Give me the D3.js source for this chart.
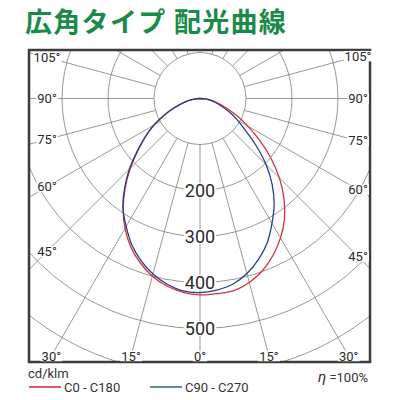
<!DOCTYPE html>
<html>
<head>
<meta charset="utf-8">
<script src="https://cdn.jsdelivr.net/npm/d3@7"></script>
<style>
  body { margin: 0; background: #fff; }
  text { font-family: Roboto, "Noto Sans", sans-serif; }
</style>
</head>
<body>
<div id="chart"></div>
<script>
// angles from nadir (deg), intensity in cd/klm
const angles = [0, 5, 10, 15, 20, 25, 30, 35, 40, 45, 50, 55, 60, 65, 70, 75, 80, 85, 90];
const c0   = [427, 426, 424, 414, 398, 376, 350, 320, 284, 244, 201, 158, 120, 88, 62, 41, 27, 13, 0];
const c180 = [427, 423, 414, 400, 380, 356, 326, 291, 253, 214, 176, 144, 115, 87, 62, 40, 26, 13, 0];
const c90  = [422, 418, 410, 394, 372, 346, 313, 281, 244, 203, 159, 120, 94, 72, 51, 36, 24, 12, 0];
const c270 = [422, 420, 410, 395, 375, 351, 321, 292, 255, 217, 178, 146, 116, 85, 60, 39, 26, 13, 0];

const rings = [100, 200, 300, 400, 500, 600, 700];
const ringLabels = [200, 300, 400, 500];
const sideLabels = [45, 60, 75, 90, 105];
const bottomLabels = [0, 15, 30];
const spokeStep = 15;

const seriesNames = ['C0 - C180', 'C90 - C270'];
const seriesColors = ['#d6303c', '#22408a'];
const legendColors = ['#d6303c', '#3a6aa8'];

const W = 400, H = 400;
const frame = { x: 29, y: 50, w: 341, h: 312 };
const cx = 200, cy = 98.5;
const gridColor = '#858585';

const svg = d3.select('#chart').append('svg')
    .attr('width', W)
    .attr('height', H);

// title
svg.append('text')
    .attr('x', 25)
    .attr('y', 32)
    .attr('fill', '#1a8a48')
    .style('font-family', '"Noto Sans CJK JP", sans-serif')
    .style('font-weight', 700)
    .style('font-size', '27px')
    .style('letter-spacing', '1.3px')
    .text('広角タイプ 配光曲線');

const rScale = d3.scaleLinear().domain([0, 100]).range([0, 46]);
const rad = a => a * Math.PI / 180;

svg.append('clipPath').attr('id', 'frameClip')
    .append('rect')
    .attr('x', frame.x).attr('y', frame.y)
    .attr('width', frame.w).attr('height', frame.h);

const grid = svg.append('g').attr('clip-path', 'url(#frameClip)')
    .append('g').attr('transform', `translate(${cx},${cy})`);

// concentric rings
grid.selectAll('circle')
    .data(rings)
    .enter()
    .append('circle')
    .attr('r', d => rScale(d))
    .attr('fill', 'none')
    .attr('stroke', gridColor)
    .attr('stroke-width', 0.85);

// spokes every 15 deg, starting at the 100 ring
const spokes = d3.range(0, 360, spokeStep);
grid.selectAll('line')
    .data(spokes)
    .enter()
    .append('line')
    .attr('x1', d => rScale(100) * Math.sin(rad(d)))
    .attr('y1', d => rScale(100) * Math.cos(rad(d)))
    .attr('x2', d => rScale(900) * Math.sin(rad(d)))
    .attr('y2', d => rScale(900) * Math.cos(rad(d)))
    .attr('stroke', gridColor)
    .attr('stroke-width', 0.85);

// frame
svg.append('rect')
    .attr('x', frame.x).attr('y', frame.y)
    .attr('width', frame.w).attr('height', frame.h)
    .attr('fill', 'none')
    .attr('stroke', '#3c3c3c')
    .attr('stroke-width', 2.5);

// label with white backing
function addLabel(x, y, txt, size) {
    const g = svg.append('g');
    const t = g.append('text')
        .attr('x', x)
        .attr('y', y)
        .attr('text-anchor', 'middle')
        .attr('dominant-baseline', 'central')
        .attr('fill', '#2a2a2a')
        .style('font-size', size + 'px')
        .text(txt);
    const b = t.node().getBBox();
    g.insert('rect', 'text')
        .attr('x', b.x - 1)
        .attr('y', b.y + b.height * 0.15)
        .attr('width', b.width + 2)
        .attr('height', b.height * 0.7)
        .attr('fill', '#fff');
}

// angle labels on the sides (left and right)
const leftX = 47, rightX = 358;
sideLabels.forEach(a => {
    const t = Math.tan(rad(a));
    const yl = cy + (cx - leftX) / t;
    const yr = cy + (rightX - cx) / t;
    addLabel(leftX, yl, a + '°', 13);
    addLabel(rightX, yr, a + '°', 13);
});

// angle labels along the bottom
const bottomY = 356;
bottomLabels.forEach(a => {
    const dx = (bottomY - cy) * Math.tan(rad(a));
    addLabel(cx - dx, bottomY, a + '°', 13);
    if (a !== 0) addLabel(cx + dx, bottomY, a + '°', 13);
});

// ring value labels along 0 deg
ringLabels.forEach(v => addLabel(cx, cy + rScale(v), v, 18));

// curves
const line = d3.lineRadial()
    .angle(d => Math.PI - rad(d.theta))
    .radius(d => rScale(d.v))
    .curve(d3.curveCatmullRom);

function buildSeries(leftVals, rightVals) {
    const left = angles.map((a, i) => ({ theta: -a, v: leftVals[i] })).reverse();
    const right = angles.map((a, i) => ({ theta: a, v: rightVals[i] })).slice(1);
    return left.concat(right);
}

const series = [buildSeries(c180, c0), buildSeries(c270, c90)];

const curves = svg.append('g').attr('transform', `translate(${cx},${cy})`);
curves.selectAll('path')
    .data(series)
    .enter()
    .append('path')
    .attr('d', d => line(d))
    .attr('fill', 'none')
    .attr('stroke', (d, i) => seriesColors[i])
    .attr('stroke-width', 1.3);

// bottom texts
svg.append('text')
    .attr('x', 28).attr('y', 378)
    .attr('fill', '#333')
    .style('font-size', '13px')
    .text('cd/klm');

const eta = svg.append('text')
    .attr('x', 368).attr('y', 382)
    .attr('text-anchor', 'end')
    .attr('fill', '#333')
    .style('font-size', '13px');
eta.append('tspan').style('font-style', 'italic').style('font-size', '15px').text('η');
eta.append('tspan').text(' =100%');

const legendX = [29, 150];
const legend = svg.selectAll('.legend')
    .data(seriesNames)
    .enter()
    .append('g')
    .attr('class', 'legend')
    .attr('transform', (d, i) => `translate(${legendX[i]},387)`);

legend.append('line')
    .attr('x1', 0).attr('x2', 32)
    .attr('stroke', (d, i) => legendColors[i])
    .attr('stroke-width', 1.6);

legend.append('text')
    .attr('x', 35)
    .attr('y', 4.5)
    .attr('fill', '#333')
    .style('font-size', '13px')
    .text(d => d);
</script>
</body>
</html>
